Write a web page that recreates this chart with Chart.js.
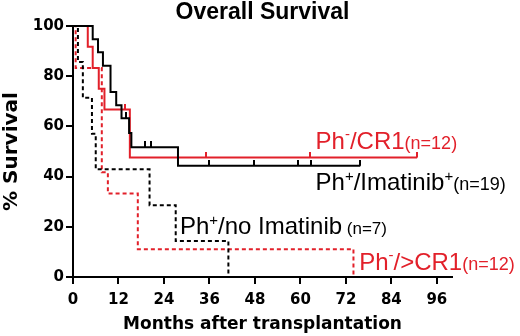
<!DOCTYPE html>
<html>
<head>
<meta charset="utf-8">
<script src="https://cdn.jsdelivr.net/npm/chart.js@4.4.0/dist/chart.umd.min.js"></script>
<style>
  html, body { margin: 0; padding: 0; background: #fff; }
  #wrap { width: 520px; height: 336px; }
</style>
</head>
<body>
<div id="wrap"><canvas id="myChart" width="520" height="336"></canvas></div>
<script>
// Kaplan-Meier steps: month of each drop and survival (%) after it
var crNegTimes = [0, 3.9, 5.2, 6.8, 8.3, 15.0, 90.8];
var crNegSurv = [100, 91.7, 83.3, 75.0, 66.7, 47.6, 47.6];
var crNegCensT = [13.7, 35.0, 62.6, 90.8];
var crNegCensS = [66.7, 47.6, 47.6, 47.6];

var imaTimes = [0, 5.2, 6.6, 7.9, 9.9, 11.4, 12.8, 14.8, 15.4, 27.7, 75.8];
var imaSurv = [100, 94.7, 89.5, 84.2, 73.7, 68.4, 63.2, 57.4, 51.7, 44.3, 44.3];
var imaCensT = [14.1, 18.9, 20.7, 36.0, 47.8, 59.4, 62.8, 75.8];
var imaCensS = [63.2, 51.7, 51.7, 44.3, 44.3, 44.3, 44.3, 44.3];

var noImaTimes = [0, 1.3, 2.6, 5.0, 6.0, 20.2, 27.1, 41.0];
var noImaSurv = [100, 85.7, 71.4, 57.1, 42.9, 28.6, 14.3, 0];

var gtCrTimes = [0, 0.7, 7.6, 9.2, 17.1, 74.0];
var gtCrSurv = [100, 83.3, 41.7, 33.3, 11.1, 0];

var xTicks = [0, 12, 24, 36, 48, 60, 72, 84, 96];
var yTicks = [0, 20, 40, 60, 80, 100];

var RED = '#e2202a';

function pts(xs, ys) {
  return xs.map(function (v, i) { return {x: v, y: ys[i]}; });
}

// little upward tick for censored patients
function censorMark(color) {
  var c = document.createElement('canvas');
  c.width = 2; c.height = 12;
  var g = c.getContext('2d');
  g.fillStyle = color;
  g.fillRect(0, 0, 2, 6);
  return c;
}

// curve labels, anchored in data units (left / baseline)
var curveLabels = [
  {x: 64.0, y: 50.9, color: RED, parts: [['Ph', 24], ['-', 15, 10], ['/CR1', 24], ['(n=12)', 18]]},
  {x: 64.0, y: 34.7, color: '#000', parts: [['Ph', 24], ['+', 15, 9], ['/Imatinib', 24], ['+', 15, 9], ['(n=19)', 18]]},
  {x: 28.2, y: 17.0, color: '#000', parts: [['Ph', 24], ['+', 15, 9], ['/no Imatinib', 24], [' (n=7)', 17]]},
  {x: 75.5, y: 2.8, color: RED, parts: [['Ph', 24], ['-', 15, 10], ['/>CR1', 24], ['(n=12)', 18]]}
];

var labelPlugin = {
  id: 'curveLabels',
  afterDatasetsDraw: function (chart) {
    var ctx = chart.ctx;
    var sx = chart.scales.x, sy = chart.scales.y;
    ctx.save();
    ctx.textBaseline = 'alphabetic';
    ctx.textAlign = 'left';
    curveLabels.forEach(function (l) {
      var px = sx.getPixelForValue(l.x);
      var py = sy.getPixelForValue(l.y);
      ctx.fillStyle = l.color;
      l.parts.forEach(function (p) {
        ctx.font = p[1] + 'px "Liberation Sans", Arial, sans-serif';
        ctx.fillText(p[0], px, py - (p[2] || 0));
        px += ctx.measureText(p[0]).width;
      });
    });
    ctx.restore();
  }
};

function stepSet(data, color, dashed) {
  return {
    type: 'line',
    data: data,
    borderColor: color,
    borderWidth: 2,
    borderDash: dashed ? [4, 3] : [],
    stepped: true,
    pointRadius: 0,
    fill: false,
    clip: 4
  };
}

function censorSet(data, color) {
  return {
    type: 'scatter',
    data: data,
    pointStyle: censorMark(color),
    pointRadius: 3,
    showLine: false,
    clip: 8
  };
}

Chart.defaults.font.family = '"DejaVu Sans", sans-serif';
Chart.defaults.color = '#000';

var ctx = document.getElementById('myChart').getContext('2d');
var myChart = new Chart(ctx, {
  type: 'line',
  data: {
    datasets: [
      stepSet(pts(noImaTimes, noImaSurv), '#000', true),
      stepSet(pts(gtCrTimes, gtCrSurv), RED, true),
      stepSet(pts(imaTimes, imaSurv), '#000', false),
      stepSet(pts(crNegTimes, crNegSurv), RED, false),
      censorSet(pts(imaCensT, imaCensS), '#000'),
      censorSet(pts(crNegCensT, crNegCensS), RED)
    ]
  },
  options: {
    responsive: false,
    animation: false,
    events: [],
    layout: {padding: {left: 0, right: 68, top: 1, bottom: 1}},
    plugins: {
      legend: {display: false},
      tooltip: {enabled: false},
      title: {
        display: true,
        text: 'Overall Survival',
        fullSize: false,
        color: '#000',
        font: {family: '"Liberation Sans", Arial, sans-serif', size: 23, weight: 'bold', lineHeight: 1},
        padding: {top: 0, bottom: 2}
      }
    },
    scales: {
      x: {
        type: 'linear',
        min: 0,
        max: 100,
        afterBuildTicks: function (s) { s.ticks = xTicks.map(function (v) { return {value: v}; }); },
        afterFit: function (s) { s.height = 58; },
        border: {color: '#000', width: 2},
        grid: {drawOnChartArea: false, drawTicks: true, tickLength: 7, color: '#000', lineWidth: 2},
        ticks: {font: {size: 15, weight: 'bold'}, padding: 7, maxRotation: 0, autoSkip: false},
        title: {display: true, text: 'Months after transplantation', font: {size: 17, weight: 'bold'}, padding: 0}
      },
      y: {
        type: 'linear',
        min: 0,
        max: 100,
        afterBuildTicks: function (s) { s.ticks = yTicks.map(function (v) { return {value: v}; }); },
        afterFit: function (s) { s.width = 73; },
        border: {color: '#000', width: 2},
        grid: {drawOnChartArea: false, drawTicks: true, tickLength: 7, color: '#000', lineWidth: 2},
        ticks: {font: {size: 15, weight: 'bold'}, padding: 2},
        title: {display: true, text: '% Survival', font: {size: 20, weight: 'bold'}, padding: 0}
      }
    }
  },
  plugins: [labelPlugin]
});
</script>
</body>
</html>
